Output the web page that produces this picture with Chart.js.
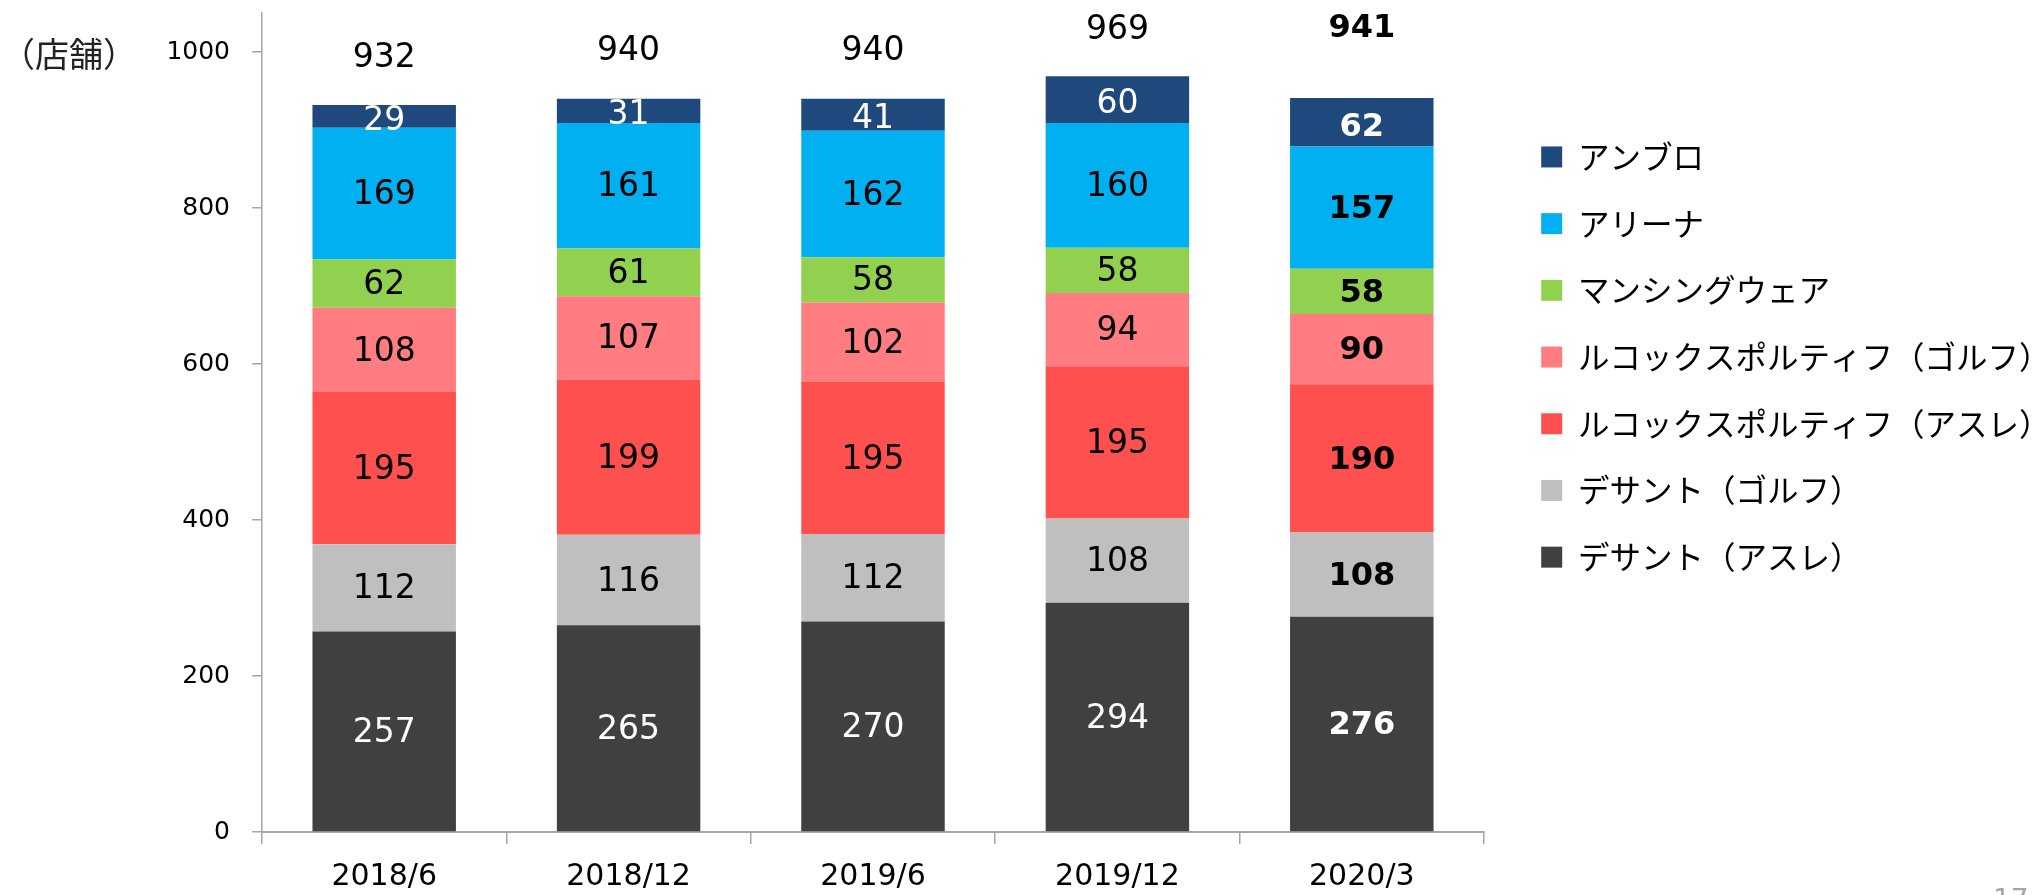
<!DOCTYPE html>
<html>
<head>
<meta charset="utf-8">
<script src="https://cdn.jsdelivr.net/npm/chart.js@4.4.1/dist/chart.umd.min.js"></script>
<style>
  html, body { margin: 0; padding: 0; background: #fff; overflow: hidden; }
  #wrap { position: relative; width: 2039px; height: 895px; overflow: hidden; }
  #unit { position: absolute; left: 1px; top: 36px; font: 34px/34px "Noto Sans CJK JP", sans-serif; color: #222; white-space: nowrap; }
  #page { position: absolute; left: 1993px; top: 886px; font: 28px/28px "DejaVu Sans", sans-serif; color: #A6A6A6; }
</style>
</head>
<body>
<div id="wrap">
  <canvas id="c" width="2039" height="895"></canvas>
  <div id="unit">（店舗）</div>
  <div id="page">17</div>
</div>
<script>
// ---- data ----
const categories = ['2018/6', '2018/12', '2019/6', '2019/12', '2020/3'];
const descenteAthle = [257, 265, 270, 294, 276];
const descenteGolf  = [112, 116, 112, 108, 108];
const lecoqAthle    = [195, 199, 195, 195, 190];
const lecoqGolf     = [108, 107, 102, 94, 90];
const munsingwear   = [62, 61, 58, 58, 58];
const arena         = [169, 161, 162, 160, 157];
const umbro         = [29, 31, 41, 60, 62];
const totals        = [932, 940, 940, 969, 941];
const yTicks        = [0, 200, 400, 600, 800, 1000];
const seriesNames   = ['デサント（アスレ）', 'デサント（ゴルフ）', 'ルコックスポルティフ（アスレ）', 'ルコックスポルティフ（ゴルフ）', 'マンシングウェア', 'アリーナ', 'アンブロ'];

// ---- styles ----
const seriesColors = ['#404040', '#BFBFBF', '#FF5050', '#FF7C80', '#92D050', '#00B0F0', '#1F497D'];
const labelColors  = ['#FFFFFF', '#000000', '#000000', '#000000', '#000000', '#000000', '#FFFFFF'];
const labelNudge   = [2, 2, 2, 2, 2, 2, 5];
const boldIndex = 4;
const totalOffsets = [47, 47, 47, 46, 69];
const numFont = '"DejaVu Sans", Verdana, sans-serif';
const axisGray = '#A6A6A6';

const seriesValues = [descenteAthle, descenteGolf, lecoqAthle, lecoqGolf, munsingwear, arena, umbro];

const datasets = seriesValues.map((vals, i) => ({
  label: seriesNames[i],
  data: vals,
  backgroundColor: seriesColors[i],
  borderWidth: 0,
  barPercentage: 0.587,
  categoryPercentage: 1.0
}));

const valueLabels = {
  id: 'valueLabels',
  afterDatasetsDraw(chart) {
    const ctx = chart.ctx;
    ctx.save();
    ctx.textAlign = 'center';
    ctx.textBaseline = 'middle';
    chart.data.datasets.forEach((ds, i) => {
      const meta = chart.getDatasetMeta(i);
      meta.data.forEach((el, j) => {
        const p = el.getProps(['x', 'y', 'base'], true);
        const bold = j === boldIndex;
        ctx.font = (bold ? 'bold 32px ' : '33px ') + numFont;
        ctx.fillStyle = labelColors[i];
        ctx.fillText(String(ds.data[j]), p.x, (p.y + p.base) / 2 + labelNudge[i]);
      });
    });
    const topMeta = chart.getDatasetMeta(chart.data.datasets.length - 1);
    topMeta.data.forEach((el, j) => {
      const p = el.getProps(['x', 'y'], true);
      const bold = j === boldIndex;
      ctx.font = (bold ? 'bold 32px ' : '33px ') + numFont;
      ctx.fillStyle = '#000000';
      ctx.fillText(String(totals[j]), p.x, p.y - totalOffsets[j]);
    });
    ctx.restore();
  }
};

new Chart(document.getElementById('c'), {
  type: 'bar',
  data: { labels: categories, datasets },
  options: {
    responsive: false,
    devicePixelRatio: 1,
    animation: false,
    layout: { padding: { top: 13, left: 0, right: 0, bottom: 0 } },
    plugins: {
      tooltip: { enabled: false },
      legend: {
        position: 'right',
        align: 'start',
        reverse: true,
        maxWidth: 533,
        title: { display: true, text: '', padding: { top: 83, bottom: 0 }, font: { size: 10, lineHeight: 1 } },
        labels: {
          boxWidth: 21,
          boxHeight: 21,
          padding: 35.2,
          color: '#000000',
          font: { family: '"Noto Sans CJK JP", sans-serif', size: 31.5 }
        }
      }
    },
    scales: {
      x: {
        stacked: true,
        border: { display: true, color: axisGray, width: 2 },
        grid: { display: true, drawOnChartArea: false, drawTicks: true, tickLength: 12, color: axisGray, lineWidth: 1.5 },
        ticks: { color: '#000000', font: { family: numFont, size: 30 }, padding: 15, autoSkip: false, maxRotation: 0 },
        afterFit(s) { s.height = 63; s.paddingLeft = 0; s.paddingRight = 0; }
      },
      y: {
        stacked: true,
        min: 0,
        max: 1050,
        border: { display: true, color: axisGray, width: 1.5 },
        grid: { display: true, drawOnChartArea: false, drawTicks: true, tickLength: 10, color: axisGray, lineWidth: 1.5 },
        ticks: { color: '#000000', font: { family: numFont, size: 25 }, padding: 22, callback: v => String(v) },
        afterBuildTicks(s) { s.ticks = yTicks.map(v => ({ value: v })); },
        afterFit(s) { s.width = 262; s.paddingTop = 0; s.paddingBottom = 0; }
      },
      y2: {
        type: 'linear',
        position: 'right',
        display: true,
        grid: { display: false },
        border: { display: false },
        ticks: { display: false },
        afterFit(s) { s.width = 22; s.paddingTop = 0; s.paddingBottom = 0; }
      }
    }
  },
  plugins: [valueLabels]
});
</script>
</body>
</html>
